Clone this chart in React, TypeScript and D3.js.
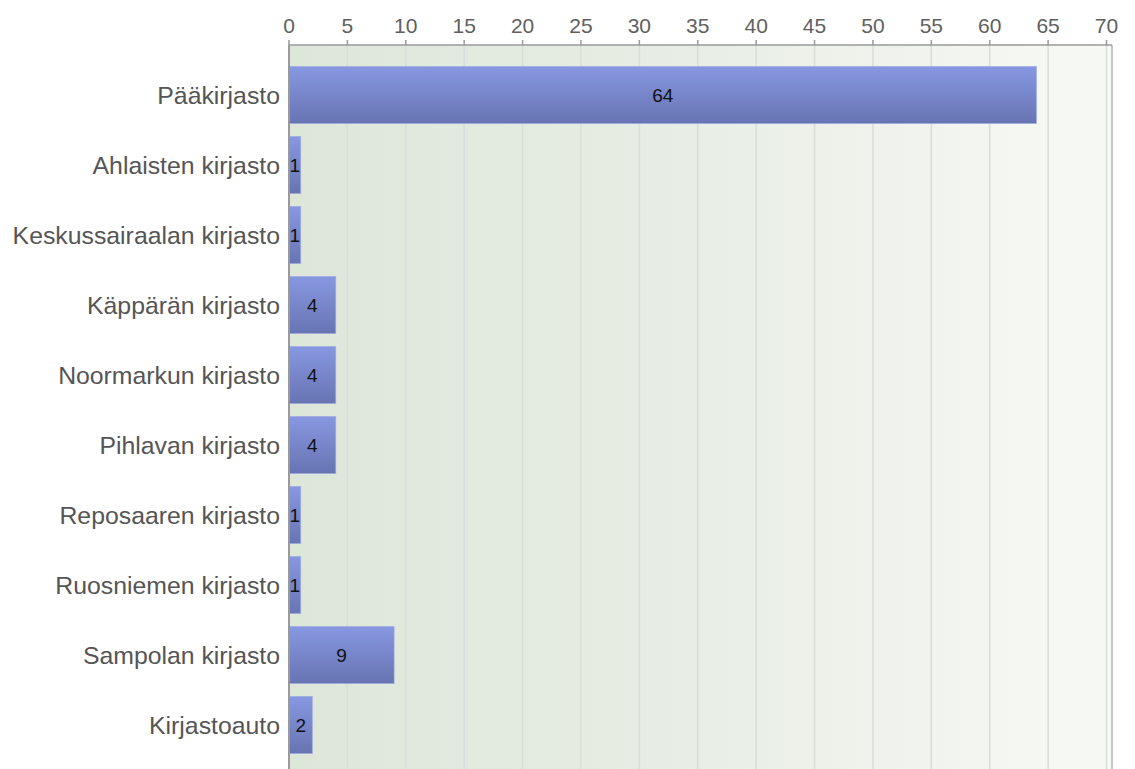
import React from "react";
import * as d3 from "d3";

const categories = [
  "Pääkirjasto",
  "Ahlaisten kirjasto",
  "Keskussairaalan kirjasto",
  "Käppärän kirjasto",
  "Noormarkun kirjasto",
  "Pihlavan kirjasto",
  "Reposaaren kirjasto",
  "Ruosniemen kirjasto",
  "Sampolan kirjasto",
  "Kirjastoauto",
];
const values = [64, 1, 1, 4, 4, 4, 1, 1, 9, 2];
const tickValues = [0, 5, 10, 15, 20, 25, 30, 35, 40, 45, 50, 55, 60, 65, 70];

const W = 1135;
const H = 769;
const plotLeft = 289;
const plotRight = 1112;
const plotTop = 45;

export default function App() {
  const x = d3.scaleLinear().domain([0, 70]).range([plotLeft, 1106.5]);
  const y = d3
    .scaleBand<string>()
    .domain(categories)
    .range([60, 760])
    .paddingInner(13 / 70)
    .paddingOuter(6.5 / 70);

  const font = "'Liberation Sans', Arial, sans-serif";

  return (
    <svg
      width={W}
      height={H}
      style={{ position: "absolute", left: 0, top: 0, background: "#fff" }}
    >
      <defs>
        <linearGradient id="bg" x1="0" x2="1" y1="0" y2="0">
          <stop offset="0" stopColor="#dee6d9" />
          <stop offset="0.45" stopColor="#e7ede4" />
          <stop offset="1" stopColor="#f7f9f5" />
        </linearGradient>
        <linearGradient id="bar" x1="0" x2="0" y1="0" y2="1">
          <stop offset="0" stopColor="#8798e2" />
          <stop offset="1" stopColor="#6874b2" />
        </linearGradient>
      </defs>

      <rect
        x={plotLeft}
        y={plotTop}
        width={plotRight - plotLeft}
        height={H - plotTop}
        fill="url(#bg)"
      />

      {tickValues
        .filter((t) => t > 0)
        .map((t) => (
          <line
            key={"g" + t}
            x1={x(t)}
            x2={x(t)}
            y1={plotTop}
            y2={H}
            stroke="#dadedb"
            strokeWidth={1.6}
          />
        ))}

      <line
        x1={plotRight}
        x2={plotRight}
        y1={plotTop}
        y2={H}
        stroke="#c4c6c4"
        strokeWidth={2}
      />

      {categories.map((c, i) => {
        const by = y(c)!;
        const bh = y.bandwidth();
        const bw = x(values[i]) - x(0);
        return (
          <g key={c}>
            <rect
              x={x(0)}
              y={by}
              width={bw}
              height={bh}
              fill="url(#bar)"
              stroke="#9aa8e0"
              strokeOpacity={0.6}
              strokeWidth={1}
            />
            <text
              x={x(0) + bw / 2}
              y={by + bh / 2}
              dy="0.35em"
              textAnchor="middle"
              fontFamily={font}
              fontSize={19}
              fill="#111"
            >
              {values[i]}
            </text>
            <text
              x={280}
              y={by + bh / 2}
              dy="0.35em"
              textAnchor="end"
              fontFamily={font}
              fontSize={24.8}
              fill="#555"
            >
              {c}
            </text>
          </g>
        );
      })}

      <line
        x1={plotLeft}
        x2={plotRight}
        y1={plotTop}
        y2={plotTop}
        stroke="#9a9a9a"
        strokeWidth={1.5}
      />
      <line
        x1={plotLeft}
        x2={plotLeft}
        y1={plotTop}
        y2={H}
        stroke="#9a9a9a"
        strokeWidth={2}
      />

      {tickValues.map((t) => (
        <g key={"t" + t}>
          <line
            x1={x(t)}
            x2={x(t)}
            y1={40}
            y2={plotTop}
            stroke="#9a9a9a"
            strokeWidth={1.5}
          />
          <text
            x={x(t)}
            y={33}
            textAnchor="middle"
            fontFamily={font}
            fontSize={21}
            fill="#606060"
          >
            {t}
          </text>
        </g>
      ))}
    </svg>
  );
}
